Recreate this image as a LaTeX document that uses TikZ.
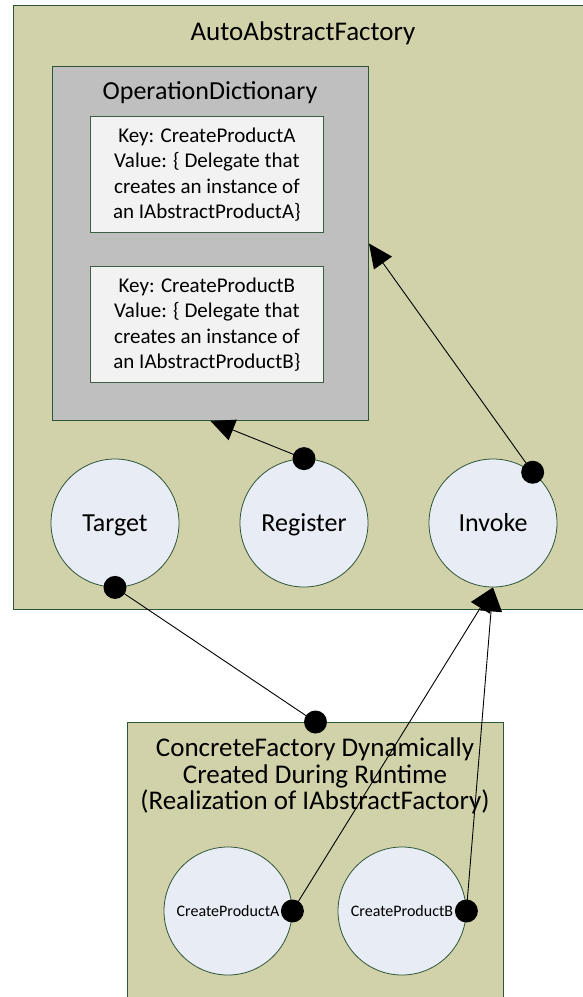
\documentclass[tikz,border=0pt]{standalone}
\usepackage{fontspec}
\setmainfont{Carlito}
\usetikzlibrary{arrows.meta}

\definecolor{panel}{RGB}{210,210,170}
\definecolor{edge}{RGB}{45,85,55}
\definecolor{dictgray}{RGB}{191,191,191}
\definecolor{entry}{RGB}{242,242,242}
\definecolor{opfill}{RGB}{232,236,244}

\tikzset{
  panelbox/.style={draw=edge, fill=panel, line width=1pt, inner sep=0pt, anchor=north west},
  dictbox/.style={draw=edge, fill=dictgray, line width=1pt, inner sep=0pt, anchor=north west,
    minimum width=316pt, minimum height=354pt},
  entrybox/.style={draw=edge!80!gray, fill=entry, line width=0.8pt, inner sep=0pt, anchor=north west,
    minimum width=233pt, minimum height=116pt, align=center,
    font=\fontsize{21}{25.5}\selectfont},
  titletext/.style={font=\fontsize{26.5}{26.5}\selectfont, align=center, inner sep=0pt},
  op/.style={circle, draw=edge, fill=opfill, line width=0.8pt, minimum size=128pt, inner sep=0pt,
    text height=16.7pt, text depth=0pt, font=\fontsize{26}{30}\selectfont},
  smallop/.style={op, text height=10.3pt, font=\fontsize{16}{19}\selectfont},
  conn/.style={draw=black, line width=0.9pt, -{Triangle[length=24pt,width=22pt]}},
  link/.style={draw=black, line width=0.9pt},
  dot/.style={circle, fill=black, minimum size=23pt, inner sep=0pt},
}

\begin{document}
\begin{tikzpicture}[x=1pt, y=-1pt]
  \useasboundingbox (0,0) rectangle (583,997);
  \clip (0,0) rectangle (583,997);

  % factory container
  \node[panelbox, minimum width=580pt, minimum height=604pt] (factory) at (13,5) {};
  \node[titletext, font=\fontsize{27}{27}\selectfont] (factorytitle) at (303,33) {AutoAbstractFactory};

  % operation dictionary with its two entries
  \node[dictbox] (dict) at (52,66) {};
  \node[titletext, font=\fontsize{26}{26}\selectfont] (dicttitle) at (210,93) {OperationDictionary};
  \node[entrybox] (entryA) at (90,116)
    {Key: CreateProductA\\Value: \{ Delegate that\\creates an instance of\\an IAbstractProductA\}};
  \node[entrybox] (entryB) at (90,266)
    {Key: CreateProductB\\Value: \{ Delegate that\\creates an instance of\\an IAbstractProductB\}};

  % factory operations
  \node[op] (target)   at (115,523) {Target};
  \node[op] (register) at (304,523) {Register};
  \node[op] (invoke)   at (493,523) {Invoke};

  % concrete factory created at runtime
  \node[panelbox, minimum width=376pt, minimum height=300pt] (concrete) at (127,722) {};
  \node[titletext, font=\fontsize{27}{26.5}\selectfont] (concretetitle) at (315,776)
    {ConcreteFactory Dynamically\\Created During Runtime\\(Realization of IAbstractFactory)};
  \node[smallop] (prodA) at (228,911) {CreateProductA};
  \node[smallop] (prodB) at (402,911) {CreateProductB};

  % connectors
  \draw[conn] (register.north) -- (dict.south);
  \draw[conn] (invoke.52) -- (dict.east);
  \draw[link] (target.south) -- (concrete.north);
  \draw[conn] (prodA.east) -- (invoke.south);
  \draw[conn] (prodB.east) -- (invoke.south);

  % connection points
  \node[dot] (dotRegister) at (register.north) {};
  \node[dot] (dotInvoke)   at (invoke.52) {};
  \node[dot] (dotTarget)   at (target.south) {};
  \node[dot] (dotConcrete) at (concrete.north) {};
  \node[dot] (dotProdA)    at (prodA.east) {};
  \node[dot] (dotProdB)    at (prodB.east) {};
\end{tikzpicture}
\end{document}
